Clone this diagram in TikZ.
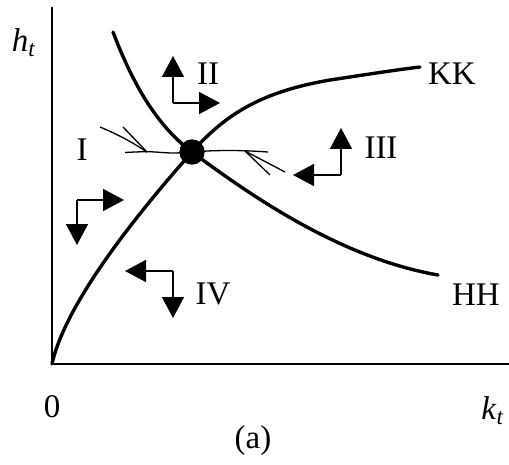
\documentclass[tikz,border=0pt]{standalone}
\usepackage{fontspec}
\setmainfont{Liberation Serif}
\usepackage{tikz}
\usetikzlibrary{arrows.meta,positioning}

\begin{document}
\begin{tikzpicture}[x=0.5pt,y=-0.5pt,every node/.style={font=\fontsize{16.5}{19}\selectfont}]
\tikzset{
  axis/.style={line width=0.75pt},
  locus/.style={line width=1.7pt, line cap=round},
  saddle/.style={line width=0.65pt},
  phase/.style={line width=0.75pt, -{Triangle[length=10.5pt,width=11pt]}},
  lbl/.style={inner sep=0pt}
}
\useasboundingbox (0,0) rectangle (509,465);
% axes
\coordinate (o) at (52,364);
\coordinate (ytop) at (52,7);
\coordinate (xend) at (509,364);
\draw[axis] (ytop) -- (o) -- (xend);
\node[lbl] (hlab) at (24,43) {\textit{h}\textsubscript{\textit{t}}};
\node[lbl] (klab) at (493,411) {\textit{k}\textsubscript{\textit{t}}};
\node[lbl] (zero) at (52,407) {0};
\node[lbl] (cap) at (253,441) {(a)};
% steady state
\node[circle, fill, inner sep=0pt, minimum size=12.7pt] (eq) at (192,152) {};
% KK and HH loci
\draw[locus] (o) .. controls (66,300) and (145,205) .. (eq.center)
  .. controls (225,115) and (260,92) .. (330,80)
  .. controls (370,74) and (395,70) .. (420,67);
\draw[locus] (113,32) .. controls (135,90) and (160,128) .. (eq.center)
  .. controls (250,195) and (340,258) .. (438,275);
\node[lbl] (kk) at (452,74) {KK};
\node[lbl] (hh) at (476,295) {HH};
% saddle path
\draw[saddle] plot[smooth, tension=0.6] coordinates {(125,152.5) (148,151.7) (172,153) (192,152) (215,150.7) (243,150.7) (268,152)};
\coordinate (sl) at (147,152);
\coordinate (sl1) at (100,127);
\coordinate (sl2) at (123,127);
\draw[saddle] (sl1) to[bend left=5] (sl);
\draw[saddle] (sl2) -- (sl);
\coordinate (sr) at (245,151);
\coordinate (sr1) at (285,172);
\coordinate (sr2) at (270,175);
\draw[saddle] (sr1) -- (sr);
\draw[saddle] (sr2) -- (sr);
% region labels
\node[lbl] (r1) at (82,150) {I};
\node[lbl] (r2) at (208,74) {II};
\node[lbl] (r3) at (381,148) {III};
\node[lbl] (r4) at (213,294) {IV};
% phase arrows
\coordinate (c1) at (77,200);
\coordinate (c1x) at (124,200);
\coordinate (c1y) at (77,245);
\draw[phase] (c1) -- (c1x);
\draw[phase] (c1) -- (c1y);
\coordinate (c2) at (173,103);
\coordinate (c2x) at (220,103);
\coordinate (c2y) at (173,56);
\draw[phase] (c2) -- (c2x);
\draw[phase] (c2) -- (c2y);
\coordinate (c3) at (341,175);
\coordinate (c3x) at (293,175);
\coordinate (c3y) at (341,128);
\draw[phase] (c3) -- (c3x);
\draw[phase] (c3) -- (c3y);
\coordinate (c4) at (173,271);
\coordinate (c4x) at (125,271);
\coordinate (c4y) at (173,318);
\draw[phase] (c4) -- (c4x);
\draw[phase] (c4) -- (c4y);
\end{tikzpicture}
\end{document}
